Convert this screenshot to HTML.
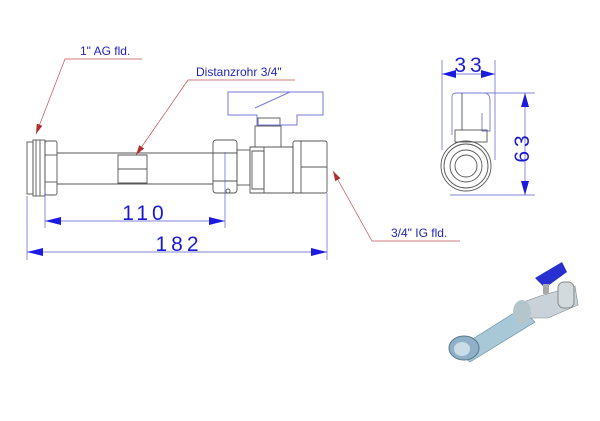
<!DOCTYPE html>
<html><head><style>body{margin:0;background:#fff}svg{display:block}</style></head><body>
<svg width="600" height="421" viewBox="0 0 600 421" xmlns="http://www.w3.org/2000/svg" font-family="Liberation Sans, sans-serif">
<defs>
<marker id="ar" viewBox="0 0 10 6" refX="10" refY="3" markerWidth="10" markerHeight="6" orient="auto-start-reverse" markerUnits="userSpaceOnUse"><path d="M0,0L10,3L0,6z" fill="#b03030"/></marker>
</defs>
<g fill="none" stroke="#555" stroke-width="0.9">
<rect x="27" y="142" width="6" height="52"/>
<rect x="33" y="140" width="12" height="56"/>
<line x1="36" y1="140" x2="36" y2="196"/><line x1="40" y1="140" x2="40" y2="196"/>
<rect x="45" y="141" width="12" height="54" rx="2"/>
<line x1="45" y1="155" x2="57" y2="155"/><line x1="45" y1="182" x2="57" y2="182"/>
<line x1="57" y1="153" x2="213" y2="153"/><line x1="57" y1="184" x2="213" y2="184"/>
<path d="M118 155h29v28h-29zM118 169h29"/>
<rect x="213" y="140" width="24" height="53" rx="3"/>
<line x1="213" y1="153" x2="237" y2="153"/><line x1="213" y1="181" x2="237" y2="181"/>
<circle cx="228" cy="191" r="2"/>
<rect x="237" y="150" width="13" height="35"/>
<path d="M250 147h43v46h-43z"/>
<path d="M252 151h12v38h-12z"/>
<line x1="264" y1="147" x2="264" y2="193"/>
<rect x="293" y="141" width="34" height="52" rx="2"/>
<line x1="301" y1="141" x2="301" y2="193"/>
<line x1="301" y1="167" x2="327" y2="167"/>
<rect x="255" y="126" width="26" height="21"/>
<rect x="258" y="118" width="22" height="8"/>
</g>
<g fill="none" stroke="#7a7ad8" stroke-width="1">
<path d="M228 92h95v23h-26v10h-40v-10h-29z"/>
<line x1="255" y1="108" x2="290" y2="92"/>
</g>
<g stroke="#5a5ad0" stroke-width="0.7" fill="#1a1ae0">
<line x1="45" y1="190" x2="45" y2="228"/><line x1="225" y1="152" x2="225" y2="228"/>
<line x1="27" y1="196" x2="27" y2="260"/><line x1="327" y1="193" x2="327" y2="260"/>
<line x1="45" y1="221" x2="225" y2="221"/>
<path d="M45 221l16-4v8z M225 221l-16-4v8z" stroke="none"/>
<line x1="27" y1="252" x2="327" y2="252"/>
<path d="M27 252l16-4v8z M327 252l-16-4v8z" stroke="none"/>
<line x1="442" y1="60" x2="442" y2="150"/><line x1="495" y1="60" x2="495" y2="160"/>
<line x1="442" y1="74" x2="495" y2="74"/>
<path d="M442 74l14-4v8z M495 74l-14-4v8z" stroke="none"/>
<line x1="480" y1="93" x2="535" y2="93"/><line x1="450" y1="195" x2="535" y2="195"/>
<line x1="525" y1="93" x2="525" y2="195"/>
<path d="M525 93l-4 14h8z M525 195l-4-14h8z" stroke="none"/>
</g>
<g fill="#1a1ad0" font-size="21" letter-spacing="4" text-anchor="middle">
<text x="145" y="220">110</text>
<text x="179" y="251">182</text>
<text x="470" y="72">33</text>
<text transform="translate(529,147) rotate(-90)">63</text>
</g>
<g stroke="#c05050" stroke-width="0.7" fill="none">
<polyline points="142,59 65,59 36,134" marker-end="url(#ar)"/>
<polyline points="295,80 188,80 136,155" marker-end="url(#ar)"/>
<polyline points="460,241 372,241 333,171" marker-end="url(#ar)"/>
</g>
<g fill="#2424b8" font-size="12">
<text x="80" y="55">1" AG fld.</text>
<text x="196" y="76">Distanzrohr 3/4"</text>
<text x="391" y="237">3/4" IG fld.</text>
</g>
<g fill="none" stroke="#555" stroke-width="0.9">
<path d="M452 135v-38q0-4 4-4h28q6 0 6 8v30h-8v-18" stroke="#7a7ad8"/>
<rect x="455" y="130" width="32" height="12"/>
<line x1="462" y1="93" x2="462" y2="130"/>
<circle cx="466" cy="166" r="25"/>
<circle cx="466" cy="166" r="22"/>
<circle cx="466" cy="166" r="16"/>
<circle cx="466" cy="166" r="11"/>
</g>
<g>
<polygon points="455,350 470,362 535,322 522,308" fill="#a8c8d8" stroke="#6a8ea0" stroke-width="0.6"/>
<ellipse cx="464" cy="348" rx="15" ry="12" fill="#8fb0c8" stroke="#55788a"/>
<ellipse cx="462" cy="349" rx="8" ry="7" fill="#c8dde8"/>
<polygon points="515,305 540,296 575,286 578,305 548,318 525,318" fill="#c8d2d8" stroke="#7a8a92" stroke-width="0.6"/>
<ellipse cx="522" cy="312" rx="9" ry="12" fill="#b5c5cc"/>
<rect x="558" y="282" width="16" height="26" rx="6" fill="#d3dade" stroke="#888"/>
<polygon points="535,278 562,262 567,272 545,288" fill="#2830d0"/>
<rect x="543" y="284" width="6" height="10" fill="#aaa"/>
</g>
</svg>
</body></html>
